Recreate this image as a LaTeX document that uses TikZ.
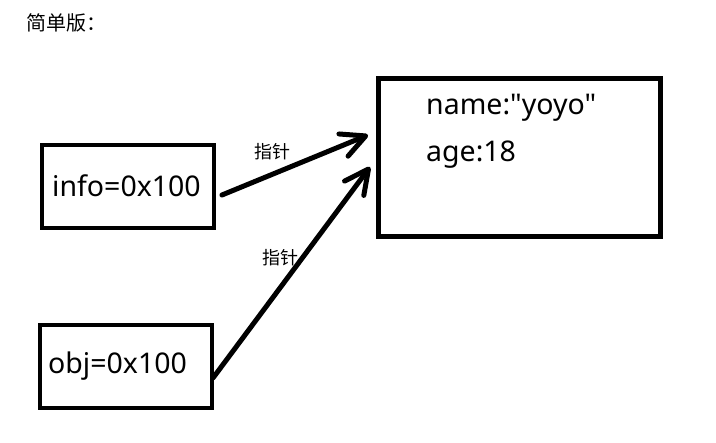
\documentclass[tikz,border=0pt]{standalone}
\usepackage{fontspec}
\setmainfont{Noto Sans}
\newfontfamily\valfont{Noto Sans}
\newfontfamily\cjk{Noto Sans CJK SC}
\usetikzlibrary{arrows.meta}
\begin{document}
\begin{tikzpicture}[x=1pt,y=-1pt,
  box/.style={draw=black,line width=4.5pt,rectangle,inner sep=0pt},
  val/.style={font=\valfont\fontsize{28.5}{31}\selectfont,inner sep=0pt},
  lbl/.style={font=\cjk\fontsize{18}{20}\selectfont,inner sep=0pt},
  ptr/.style={line width=5pt,line cap=round,-{Straight Barb[round,length=24pt,width=24pt]}}]
\useasboundingbox (0,0) rectangle (716,443);
\node[lbl,font=\cjk\fontsize{20}{22}\selectfont,anchor=west] (title) at (26,23) {简单版：};
\node[box,minimum width=172,minimum height=83] (info) at (128,186.5) {};
\node[val,anchor=west] (infot) at (52,186) {info=0x100};
\node[box,minimum width=172,minimum height=83] (obj) at (126,366.5) {};
\node[val,anchor=west] (objt) at (48,366) {obj=0x100};
\node[box,minimum width=282,minimum height=158] (heap) at (519.5,157.5) {};
\node[val,anchor=west] (name) at (426,108) {name:"yoyo"};
\node[val,anchor=west] (age) at (426,155) {age:18};
\coordinate (s1) at (222,195);
\coordinate (t1) at (368,135);
\coordinate (s2) at (213,378);
\coordinate (t2) at (370,167);
\draw[ptr] (s1) -- (t1);
\draw[ptr] (s2) -- (t2);
\node[lbl] (l1) at (272,152) {指针};
\node[lbl] (l2) at (280,258) {指针};
\end{tikzpicture}
\end{document}
